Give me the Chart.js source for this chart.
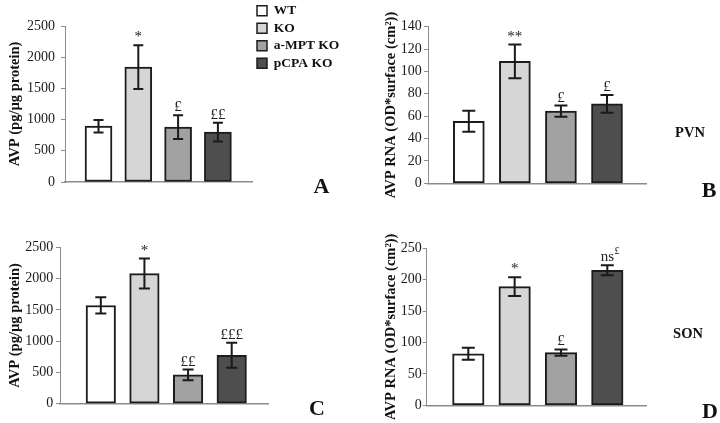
<!DOCTYPE html>
<html><head><meta charset="utf-8">
<script src="https://cdn.jsdelivr.net/npm/chart.js@4.4.1/dist/chart.umd.min.js"></script>
<style>
html,body{margin:0;padding:0;background:#fff;}
#wrap{position:relative;width:720px;height:423px;overflow:hidden;background:#fff;}
canvas{position:absolute;}
</style></head><body>
<div id="wrap">
<canvas id="cA" width="360" height="210" style="left:0;top:0"></canvas>
<canvas id="cB" width="360" height="210" style="left:360px;top:0"></canvas>
<canvas id="cC" width="360" height="213" style="left:0;top:210px"></canvas>
<canvas id="cD" width="360" height="213" style="left:360px;top:210px"></canvas>
<canvas id="cL" width="130" height="80" style="left:253px;top:0"></canvas>
</div>
<script>
// ---- data ----
const groups = ['WT', 'KO', 'a-MPT KO', 'pCPA KO'];
const avpPVN = [895, 1840, 880, 800];
const avpPVNerr = [100, 350, 190, 150];
const rnaPVN = [55.5, 109, 64.5, 71];
const rnaPVNerr = [9.4, 15, 5, 8];
const avpSON = [1570, 2080, 460, 775];
const avpSONerr = [130, 240, 85, 200];
const rnaSON = [82, 189, 84, 215];
const rnaSONerr = [9.5, 15, 5, 8];
const marksA = ['', '*', '£', '££'];
const marksB = ['', '**', '£', '£'];
const marksC = ['', '*', '££', '£££'];
const marksD = ['', '*', '£', 'ns'];
const supsD = ['', '', '', '£'];
const noSups = ['', '', '', ''];
const ticksAVP = [0, 500, 1000, 1500, 2000, 2500];
const ticksPVN = [0, 20, 40, 60, 80, 100, 120, 140];
const ticksSON = [0, 50, 100, 150, 200, 250];
const titleAVP = 'AVP (pg/µg protein)';
const titleRNA = 'AVP RNA (OD*surface (cm²))';
const panelLetters = ['A', 'B', 'C', 'D'];
const regionNames = ['PVN', 'SON'];

// ---- styles ----
const fills = ['#ffffff', '#d6d6d6', '#a2a2a2', '#4e4e4e'];
const edge = '#1c1c1c';
const axisGray = '#8c8c8c';
const SERIF = "'Liberation Serif','Times New Roman',serif";
Chart.defaults.font.family = SERIF;
Chart.defaults.color = '#1a1a1a';

function annotPlugin(errs, marks, sups, cap, texts) {
  return {
    id: 'annot',
    afterDatasetsDraw(chart) {
      const ctx = chart.ctx, ys = chart.scales.y;
      const ds = chart.data.datasets[0];
      const meta = chart.getDatasetMeta(0);
      ctx.save();
      meta.data.forEach((bar, i) => {
        const v = ds.data[i].y;
        const x = bar.x;
        const t = ys.getPixelForValue(v + errs[i]);
        const b = ys.getPixelForValue(v - errs[i]);
        ctx.strokeStyle = '#1a1a1a';
        ctx.lineWidth = 2;
        ctx.beginPath();
        ctx.moveTo(x, t); ctx.lineTo(x, b);
        ctx.moveTo(x - cap, t); ctx.lineTo(x + cap, t);
        ctx.moveTo(x - cap, b); ctx.lineTo(x + cap, b);
        ctx.stroke();
        if (marks[i]) {
          ctx.fillStyle = '#222';
          ctx.font = '15px ' + SERIF;
          ctx.textAlign = 'center';
          ctx.textBaseline = 'alphabetic';
          ctx.fillText(marks[i], x, t - 4);
          if (sups[i]) {
            const w = ctx.measureText(marks[i]).width;
            ctx.font = '10px ' + SERIF;
            ctx.textAlign = 'left';
            ctx.fillText(sups[i], x + w / 2 + 0.5, t - 11);
          }
        }
      });
      texts.forEach(tx => {
        ctx.fillStyle = '#111';
        ctx.font = 'bold ' + tx.size + 'px ' + SERIF;
        ctx.textAlign = 'center';
        ctx.textBaseline = 'alphabetic';
        ctx.fillText(tx.text, tx.x, tx.y);
      });
      ctx.restore();
    }
  };
}

function makePanel(id, values, errs, marks, sups, ticks, title, geo, texts) {
  const data = values.map((v, i) => ({ x: i + 1, y: v }));
  return new Chart(document.getElementById(id), {
    type: 'bar',
    data: {
      datasets: [{
        label: title,
        data: data,
        backgroundColor: fills,
        borderColor: edge,
        borderWidth: 2,
        borderSkipped: false,
        barThickness: geo.bar,
        grouped: false
      }]
    },
    options: {
      responsive: false,
      animation: false,
      devicePixelRatio: 1,
      layout: { padding: geo.pad },
      plugins: { legend: { display: false }, tooltip: { enabled: false } },
      scales: {
        x: {
          type: 'linear', min: geo.xmin, max: geo.xmax, offset: false,
          ticks: { display: false },
          grid: { display: false },
          border: { color: axisGray, width: 1.5 },
          afterFit(s) { s.height = 0; }
        },
        y: {
          type: 'linear', min: ticks[0], max: ticks[ticks.length - 1],
          afterBuildTicks(s) { s.ticks = ticks.map(v => ({ value: v })); },
          ticks: { padding: geo.tp, color: '#1a1a1a', font: { size: 14 }, callback: v => String(v) },
          grid: { drawOnChartArea: false, drawTicks: true, tickLength: 4, color: axisGray },
          border: { color: axisGray, width: 1 },
          title: { display: true, text: title, color: '#111', font: { size: 14.5, weight: 'bold' }, padding: { top: 6.3, bottom: 0 } },
          afterFit(s) { s.width = geo.yw; }
        }
      }
    },
    plugins: [annotPlugin(errs, marks, sups, geo.cap, texts)]
  });
}

makePanel('cA', avpPVN, avpPVNerr, marksA, noSups, ticksAVP, titleAVP,
  { pad: { left: 0, top: 26, right: 108, bottom: 28 }, yw: 65, tp: 6, xmin: 0.158, xmax: 4.857, bar: 27, cap: 5 },
  [{ text: panelLetters[0], x: 321.5, y: 193, size: 22 }]);

makePanel('cB', rnaPVN, rnaPVNerr, marksB, noSups, ticksPVN, titleRNA,
  { pad: { left: 16, top: 26.7, right: 74, bottom: 26.7 }, yw: 52, tp: 2.3, xmin: 0.114, xmax: 4.847, bar: 31, cap: 6.5 },
  [{ text: panelLetters[1], x: 349, y: 197, size: 22 }, { text: regionNames[0], x: 330, y: 137, size: 14.5 }]);

makePanel('cC', avpSON, avpSONerr, marksC, noSups, ticksAVP, titleAVP,
  { pad: { left: 0, top: 37.3, right: 92, bottom: 19.3 }, yw: 60, tp: 2.7, xmin: 0.065, xmax: 4.832, bar: 29.5, cap: 5.5 },
  [{ text: panelLetters[2], x: 317, y: 205, size: 22 }]);

makePanel('cD', rnaSON, rnaSONerr, marksD, supsD, ticksSON, titleRNA,
  { pad: { left: 16, top: 38.3, right: 74, bottom: 17.7 }, yw: 50.7, tp: 1, xmin: 0.102, xmax: 4.835, bar: 31.5, cap: 6.5 },
  [{ text: panelLetters[3], x: 350, y: 208, size: 22 }, { text: regionNames[1], x: 328, y: 128, size: 14.5 }]);

// legend (shared)
new Chart(document.getElementById('cL'), {
  type: 'bar',
  data: {
    labels: [],
    datasets: groups.map((g, i) => ({ label: g, data: [], backgroundColor: fills[i], borderColor: edge, borderWidth: 1.5 }))
  },
  options: {
    responsive: false,
    animation: false,
    devicePixelRatio: 1,
    layout: { padding: 0 },
    scales: { x: { display: false }, y: { display: false } },
    plugins: {
      tooltip: { enabled: false },
      legend: {
        display: true, position: 'left', align: 'start', maxWidth: 125,
        labels: { boxWidth: 10, boxHeight: 10, padding: 4, color: '#111', font: { size: 13.5, weight: 'bold' } }
      }
    }
  }
});
</script>
</body></html>
